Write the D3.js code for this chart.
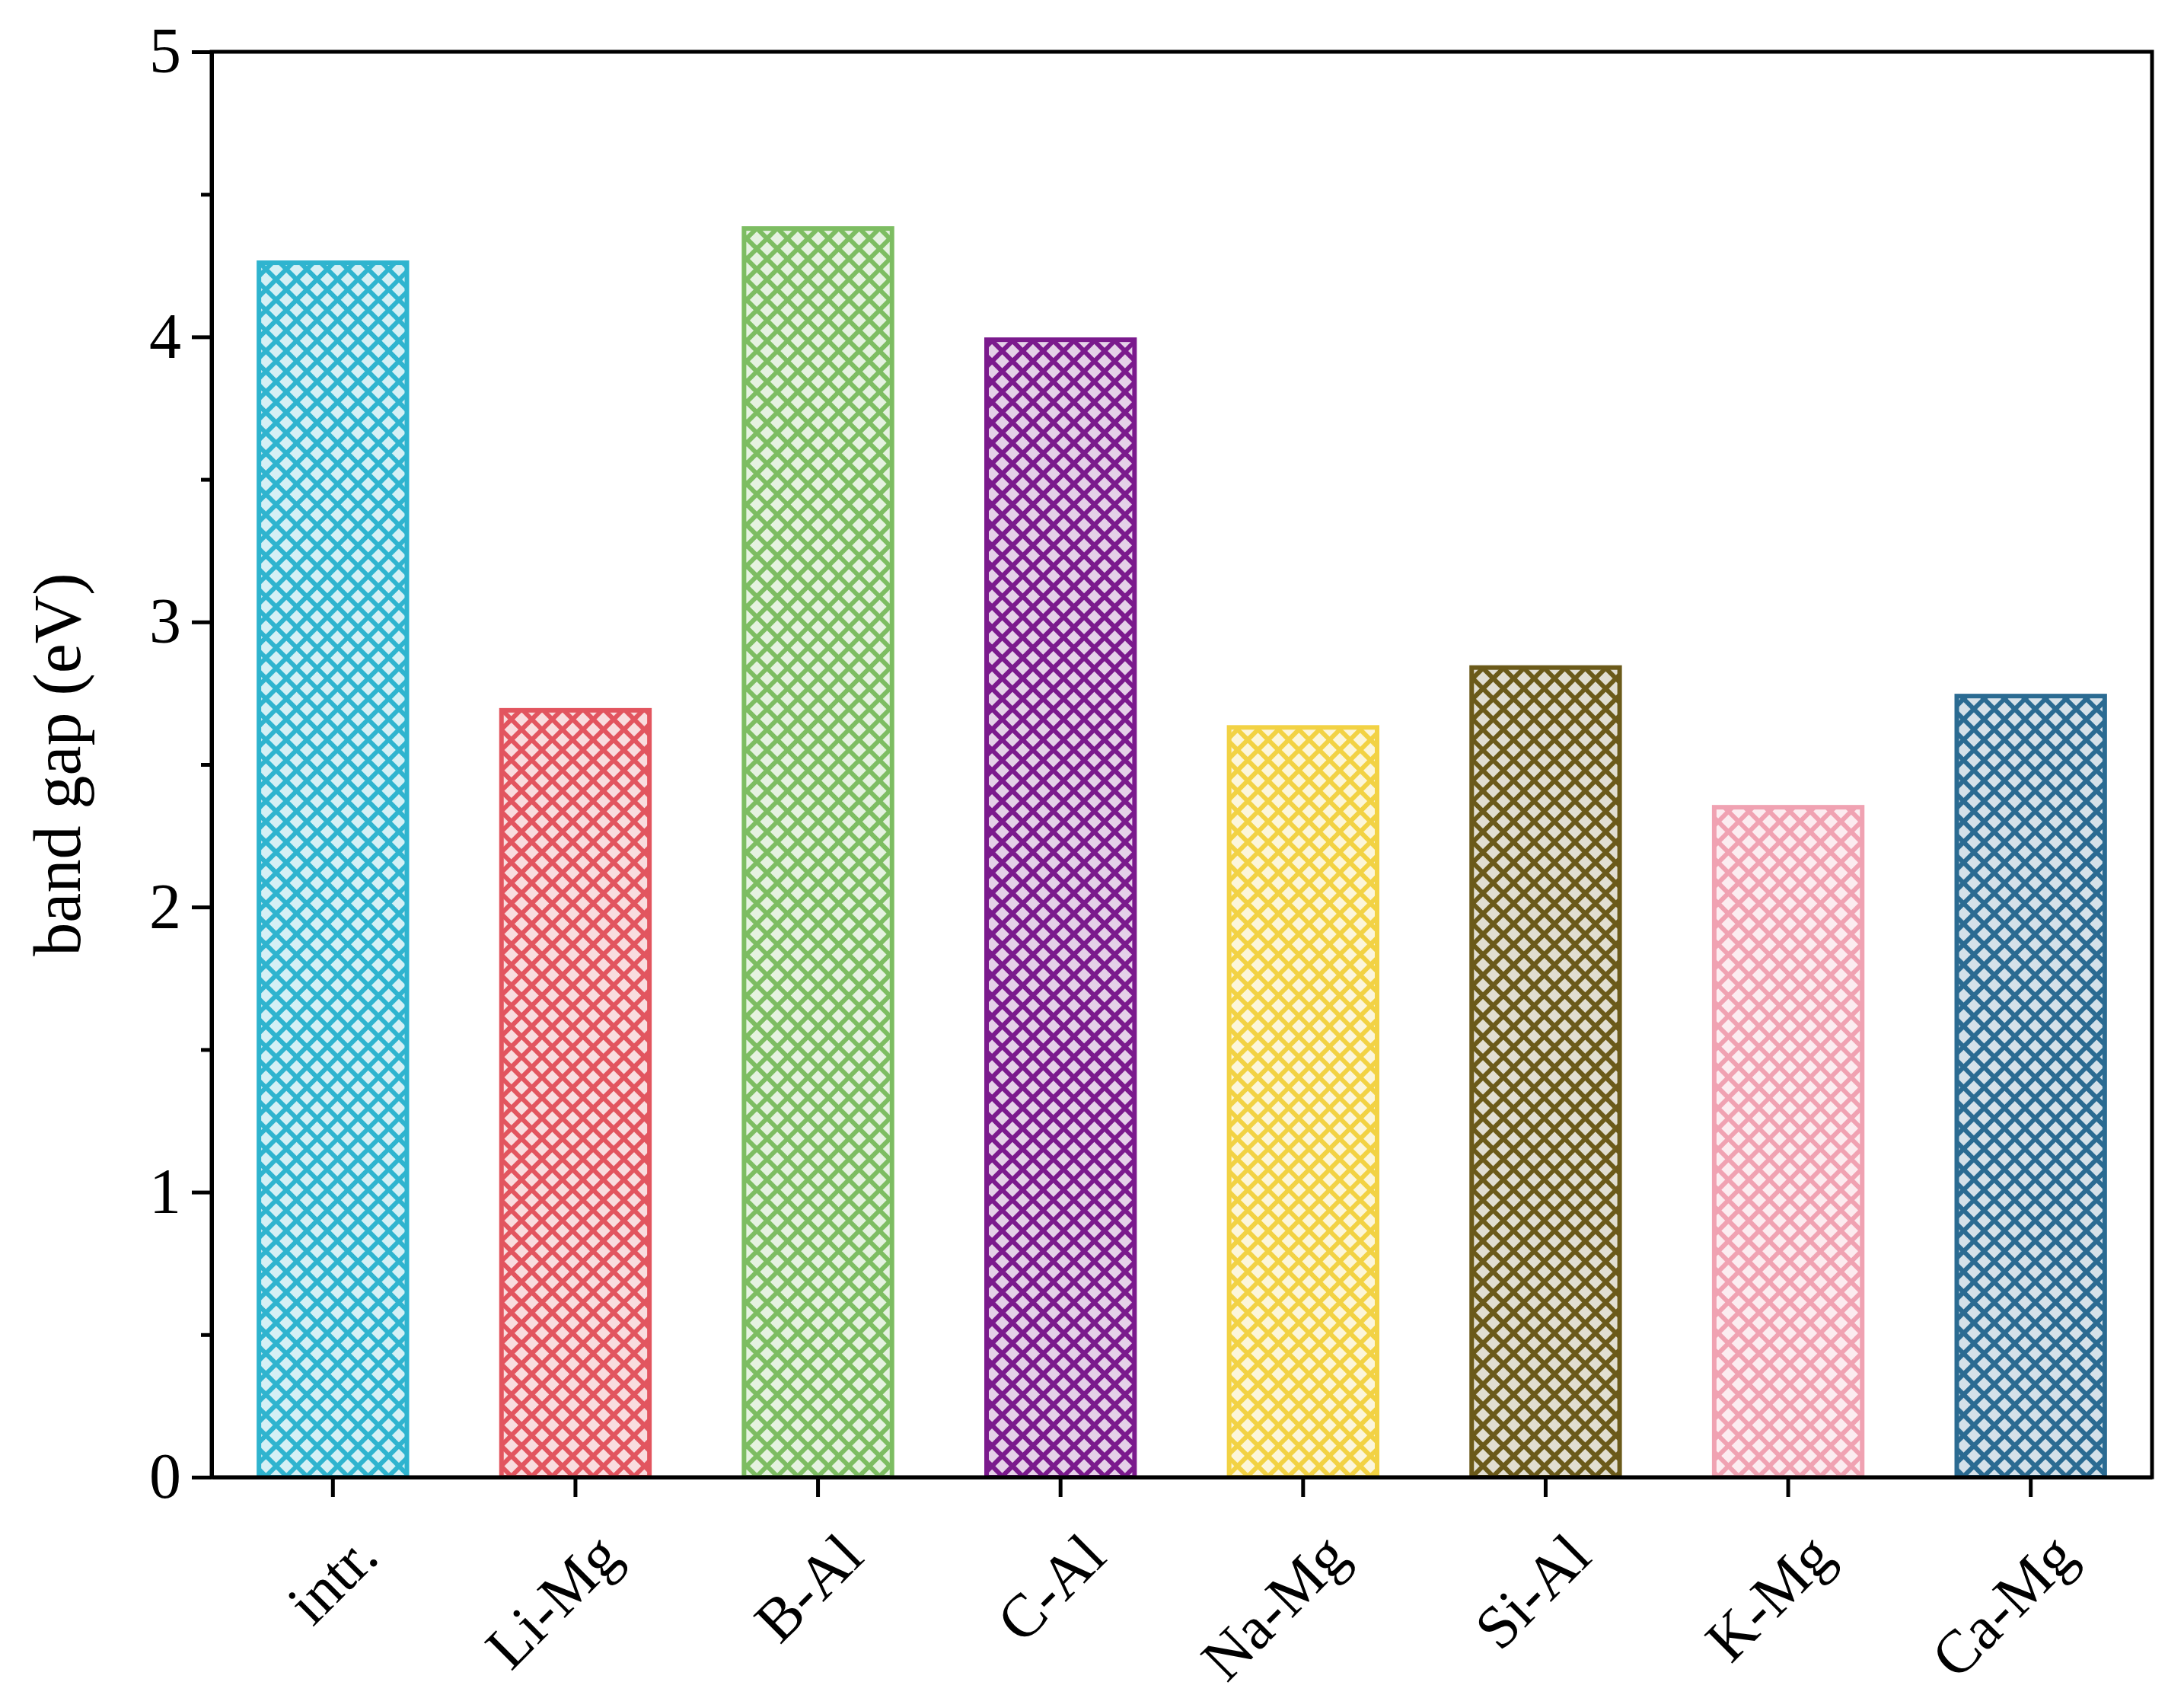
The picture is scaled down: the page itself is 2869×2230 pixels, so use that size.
<!DOCTYPE html>
<html><head><meta charset="utf-8">
<script src="https://cdn.jsdelivr.net/npm/d3@7"></script>
<style>body{margin:0;background:#fff}</style></head>
<body><svg id="c" width="2869" height="2230"></svg>
<script>
const categories = ["intr.","Li-Mg","B-Al","C-Al","Na-Mg","Si-Al","K-Mg","Ca-Mg"];
const values = [4.26,2.69,4.38,3.99,2.63,2.84,2.35,2.74];
const colors = ["#2fb4cf","#e2555f","#7dbd62","#7b1a8d","#f2d244","#6b5a1a","#f0a2b2","#2b6b92"];
const yTicks = [0,1,2,3,4,5];

const svg = d3.select("#c");
const L=278,R=2827,T=68,B=1940;
const x = d3.scaleBand().domain(categories).range([L,R]).paddingInner(0.39).paddingOuter(0.195);
const y = d3.scaleLinear().domain([0,5]).range([B,T]);
const font = "'Liberation Serif', 'Times New Roman', serif";

const defs = svg.append("defs");
colors.forEach((c,i)=>{
  const p = defs.append("pattern").attr("id","p"+i).attr("patternUnits","userSpaceOnUse")
    .attr("width",19).attr("height",19).attr("patternTransform","rotate(45)");
  p.append("rect").attr("width",19).attr("height",19).attr("fill",d3.interpolateRgb(c,"#fff")(0.8));
  p.append("rect").attr("x",0).attr("y",0).attr("width",6).attr("height",19).attr("fill",c);
  p.append("rect").attr("x",0).attr("y",0).attr("width",19).attr("height",6).attr("fill",c);
});

svg.selectAll("rect.bar").data(categories).join("rect").attr("class","bar")
  .attr("x",d=>x(d)).attr("width",x.bandwidth())
  .attr("y",(d,i)=>y(values[i])).attr("height",(d,i)=>y(0)-y(values[i]))
  .attr("fill",(d,i)=>`url(#p${i})`).attr("stroke",(d,i)=>colors[i]).attr("stroke-width",6);

svg.append("rect").attr("x",L).attr("y",T).attr("width",R-L).attr("height",B-T)
  .attr("fill","none").attr("stroke","#000").attr("stroke-width",5);

const ya = svg.append("g").attr("transform",`translate(${L},0)`)
  .call(d3.axisLeft(y).tickValues(yTicks).tickFormat(d3.format("d")).tickSize(26).tickSizeOuter(0).tickPadding(14));
svg.append("g").attr("transform",`translate(${L},0)`)
  .call(d3.axisLeft(y).tickValues(d3.range(0.5,5,1)).tickFormat("").tickSize(14).tickSizeOuter(0))
  .select(".domain").remove();
svg.append("g").attr("transform",`translate(0,${B})`)
  .call(d3.axisBottom(x).tickSize(26).tickSizeOuter(0).tickFormat(""));
svg.selectAll(".tick line").attr("stroke-width",5);
svg.selectAll(".domain").attr("stroke-width",5);
ya.selectAll("text").attr("font-family",font).attr("font-size",84).attr("fill","#000");

svg.append("g").selectAll("text").data(categories).join("text")
  .attr("transform",d=>`translate(${x(d)+x.bandwidth()/2+50},${B+95}) rotate(-45)`)
  .attr("text-anchor","end").attr("dominant-baseline","middle")
  .attr("font-family",font).attr("font-size",80).text(d=>d);

svg.append("text").attr("transform",`translate(105,${(T+B)/2}) rotate(-90)`)
  .attr("text-anchor","middle").attr("font-family",font).attr("font-size",88).text("band gap (eV)");
</script></body></html>
